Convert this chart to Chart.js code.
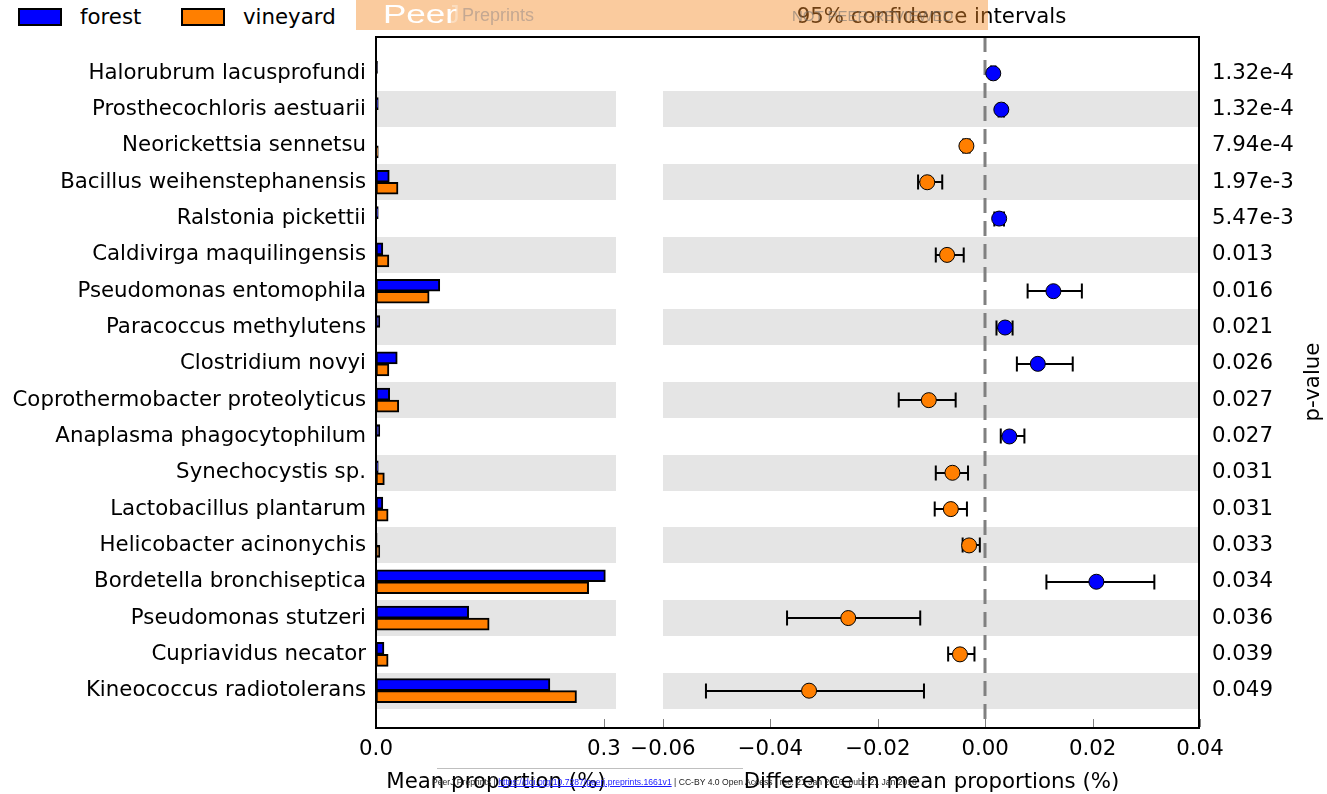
<!DOCTYPE html>
<html>
<head>
<meta charset="utf-8">
<script src="https://cdn.jsdelivr.net/npm/chart.js@4.4.0/dist/chart.umd.min.js"></script>
<style>
html,body{margin:0;padding:0;background:#fff;}
#wrap{position:relative;width:1327px;height:794px;overflow:hidden;font-family:'DejaVu Sans',sans-serif;}
canvas{position:absolute;top:0;}
#legend{position:absolute;left:0;top:0;height:34px;width:350px;}
.lg-box{position:absolute;top:8px;width:44px;height:18px;border:2px solid #000;box-sizing:border-box;}
.lg-txt{position:absolute;top:4px;font-size:21.3px;line-height:25px;color:#000;white-space:nowrap;}
#frame{position:absolute;left:375px;top:36px;width:825px;height:693px;border:2px solid #000;box-sizing:border-box;pointer-events:none;}
#wm{position:absolute;left:356px;top:0;width:632px;height:30px;background:rgba(245,140,40,0.45);pointer-events:none;overflow:hidden;}
#wm .peer{position:absolute;left:27px;top:2px;font-family:'Liberation Sans',sans-serif;font-size:25px;line-height:25px;color:#fff;transform:scaleX(1.4);transform-origin:0 0;}
#wm .j{position:absolute;left:91px;top:2px;font-family:'Liberation Sans',sans-serif;font-size:25px;line-height:25px;color:rgba(255,255,255,0.35);}
#wm .pre{position:absolute;left:106px;top:6px;font-family:'Liberation Sans',sans-serif;font-size:18px;line-height:18px;color:#c4a892;}
#wm .npr{position:absolute;left:436px;top:7px;font-family:'Liberation Sans',sans-serif;font-size:15px;color:rgba(110,110,110,0.55);white-space:nowrap;}
#footer{position:absolute;left:432px;top:777px;font-family:'Liberation Sans',sans-serif;font-size:8.6px;color:#222;white-space:nowrap;}
#footer a{color:#1a1aff;text-decoration:underline;}
#fline{position:absolute;left:437px;top:768px;width:306px;height:0;border-top:1px solid rgba(0,0,0,0.25);}
</style>
</head>
<body>
<div id="wrap">
  <div id="legend"></div>
  <canvas id="leftChart" width="640" height="794" style="left:0px"></canvas>
  <canvas id="rightChart" width="727" height="794" style="left:600px"></canvas>
  <div id="frame"></div>
  <div id="wm"><span class="peer">Peer</span><span class="j">J</span><span class="pre">Preprints</span><span class="npr">NOT PEER-REVIEWED</span></div>
  <div id="fline"></div>
  <div id="footer">PeerJ Preprints | <a>https://doi.org/10.7287/peerj.preprints.1661v1</a> | CC-BY 4.0 Open Access | rec: 21 Jan 2016, publ: 21 Jan 2016</div>
</div>
<script>
// ---------------- DATA ----------------
const categories = [
  'Halorubrum lacusprofundi',
  'Prosthecochloris aestuarii',
  'Neorickettsia sennetsu',
  'Bacillus weihenstephanensis',
  'Ralstonia pickettii',
  'Caldivirga maquilingensis',
  'Pseudomonas entomophila',
  'Paracoccus methylutens',
  'Clostridium novyi',
  'Coprothermobacter proteolyticus',
  'Anaplasma phagocytophilum',
  'Synechocystis sp.',
  'Lactobacillus plantarum',
  'Helicobacter acinonychis',
  'Bordetella bronchiseptica',
  'Pseudomonas stutzeri',
  'Cupriavidus necator',
  'Kineococcus radiotolerans'
];
const seriesNames = ['forest', 'vineyard'];
const forestMean   = [0.002, 0.003, 0.0004, 0.0175, 0.003, 0.009, 0.084, 0.005, 0.028, 0.018, 0.005, 0.003, 0.009, 0.0015, 0.302, 0.122, 0.0105, 0.229];
const vineyardMean = [0.0003, 0.0004, 0.003, 0.029, 0.0006, 0.017, 0.070, 0.0006, 0.017, 0.030, 0.0004, 0.011, 0.016, 0.005, 0.280, 0.149, 0.016, 0.264];
const meanDiff = [0.0015, 0.0030, -0.0035, -0.0108, 0.0026, -0.0071, 0.0127, 0.0037, 0.0098, -0.0105, 0.0045, -0.0061, -0.0064, -0.0030, 0.0207, -0.0255, -0.0047, -0.0328];
const ciLow    = [0.0011, 0.0025, -0.0041, -0.0125, 0.0017, -0.0092, 0.0079, 0.0021, 0.0059, -0.0161, 0.0029, -0.0092, -0.0094, -0.0042, 0.0114, -0.0369, -0.0069, -0.0520];
const ciHigh   = [0.0019, 0.0035, -0.0029, -0.0080, 0.0035, -0.0040, 0.0180, 0.0051, 0.0163, -0.0055, 0.0073, -0.0032, -0.0034, -0.0010, 0.0315, -0.0121, -0.0020, -0.0114];
const pValues  = ['1.32e-4', '1.32e-4', '7.94e-4', '1.97e-3', '5.47e-3', '0.013', '0.016', '0.021', '0.026', '0.027', '0.027', '0.031', '0.031', '0.033', '0.034', '0.036', '0.039', '0.049'];
const leftTickValues  = [0.0, 0.3];
const leftTickLabels  = ['0.0', '0.3'];
const rightTickValues = [-0.06, -0.04, -0.02, 0.0, 0.02, 0.04];
const rightTickLabels = ['\u22120.06', '\u22120.04', '\u22120.02', '0.00', '0.02', '0.04'];

// ---------------- STYLE ----------------
const COLORS = ['#0000ff', '#ff7f00'];
const FONT = 'DejaVu Sans';
const FS = 21.3;
Chart.defaults.font.family = FONT;
Chart.defaults.font.size = FS;
Chart.defaults.color = '#000';

// legend (HTML)
(function(){
  const lg = document.getElementById('legend');
  const pos = [[18, 80], [181, 243]];
  seriesNames.forEach((n, k) => {
    const b = document.createElement('div');
    b.className = 'lg-box'; b.style.left = pos[k][0] + 'px'; b.style.background = COLORS[k];
    const t = document.createElement('div');
    t.className = 'lg-txt'; t.style.left = pos[k][1] + 'px'; t.textContent = n;
    lg.appendChild(b); lg.appendChild(t);
  });
})();

const bandPlugin = {
  id: 'bands',
  beforeDatasetsDraw(chart) {
    const {ctx, chartArea: a, scales: {y}} = chart;
    ctx.save();
    ctx.fillStyle = '#e5e5e5';
    for (let i = 1; i < categories.length; i += 2) {
      const y1 = y.getPixelForValue(i - 0.5), y2 = y.getPixelForValue(i + 0.5);
      ctx.fillRect(a.left, Math.round(Math.min(y1, y2)), a.right - a.left, Math.round(Math.abs(y2 - y1)));
    }
    ctx.restore();
  },
  afterDraw(chart) {
    const {ctx, chartArea: a, scales: {x}} = chart;
    ctx.save();
    ctx.strokeStyle = '#808080';
    ctx.lineWidth = 1;
    x.ticks.forEach(t => {
      const px = Math.round(x.getPixelForValue(t.value)) + 0.5;
      ctx.beginPath();
      ctx.moveTo(px, a.bottom);
      ctx.lineTo(px, a.bottom - 8);
      ctx.stroke();
    });
    ctx.restore();
  }
};

const errPlugin = {
  id: 'errbars',
  beforeDatasetsDraw(chart) {
    const {ctx, chartArea: a, scales: {x, y}} = chart;
    // zero line
    ctx.save();
    const x0 = Math.round(x.getPixelForValue(0));
    ctx.strokeStyle = '#808080';
    ctx.lineWidth = 3;
    ctx.setLineDash([15, 8]);
    ctx.beginPath();
    ctx.moveTo(x0, a.top);
    ctx.lineTo(x0, a.bottom);
    ctx.stroke();
    ctx.restore();
    // error bars
    ctx.save();
    ctx.strokeStyle = '#000';
    ctx.lineWidth = 2;
    for (let i = 0; i < categories.length; i++) {
      const yy = Math.round(y.getPixelForValue(i));
      const xa = x.getPixelForValue(ciLow[i]), xb = x.getPixelForValue(ciHigh[i]);
      ctx.beginPath();
      ctx.moveTo(xa, yy); ctx.lineTo(xb, yy);
      ctx.moveTo(xa, yy - 7.5); ctx.lineTo(xa, yy + 7.5);
      ctx.moveTo(xb, yy - 7.5); ctx.lineTo(xb, yy + 7.5);
      ctx.stroke();
    }
    ctx.restore();
  },
  afterDraw(chart) {
    const {ctx, chartArea: a} = chart;
    ctx.save();
    ctx.translate(713, (a.top + a.bottom) / 2);
    ctx.rotate(-Math.PI / 2);
    ctx.font = FS + 'px ' + FONT;
    ctx.fillStyle = '#000';
    ctx.textAlign = 'center';
    ctx.textBaseline = 'middle';
    ctx.fillText('p-value', 0, 0);
    ctx.restore();
  }
};

const rowAxis = (extra) => Object.assign({
  type: 'linear',
  min: -1,
  max: categories.length,
  reverse: true,
  offset: false,
  grid: { display: false, drawTicks: false, offset: false },
  border: { display: false },
  afterBuildTicks: s => { s.ticks = categories.map((_, i) => ({ value: i })); },
}, extra);

const xTitle = (text) => ({ display: true, text, font: { size: FS, lineHeight: 1.0 }, padding: { top: 0, bottom: 0.5 } });

// ---------------- LEFT CHART ----------------
new Chart(document.getElementById('leftChart'), {
  type: 'bar',
  data: {
    datasets: [
      { label: seriesNames[0], data: forestMean.map((v, i) => ({ x: v, y: i })), backgroundColor: COLORS[0] },
      { label: seriesNames[1], data: vineyardMean.map((v, i) => ({ x: v, y: i })), backgroundColor: COLORS[1] }
    ].map(d => Object.assign(d, { borderColor: '#000', borderWidth: 2, borderSkipped: false, barThickness: 12 }))
  },
  options: {
    indexAxis: 'y',
    responsive: false,
    animation: false,
    devicePixelRatio: 1,
    layout: { padding: { top: 37, right: 24, left: 0, bottom: 0 } },
    plugins: { legend: { display: false }, tooltip: { enabled: false } },
    scales: {
      x: {
        type: 'linear', min: 0, max: 0.316, offset: false,
        grid: { display: false, drawTicks: false },
        border: { display: false },
        afterBuildTicks: s => { s.ticks = leftTickValues.map(v => ({ value: v })); },
        ticks: { padding: 10, autoSkip: false, maxRotation: 0, callback: (v, idx) => leftTickLabels[idx] },
        title: xTitle('Mean proportion (%)'),
        afterFit: s => { s.height = 67; }
      },
      y: rowAxis({
        position: 'left',
        ticks: { padding: 10, autoSkip: false, callback: v => categories[v] },
        afterFit: s => { s.width = 376; }
      })
    }
  },
  plugins: [bandPlugin]
});

// ---------------- RIGHT CHART ----------------
new Chart(document.getElementById('rightChart'), {
  type: 'scatter',
  data: {
    datasets: [{
      label: 'difference',
      data: meanDiff.map((v, i) => ({ x: v, y: i })),
      pointRadius: 7.5,
      pointHoverRadius: 7.5,
      pointBackgroundColor: meanDiff.map(v => v > 0 ? COLORS[0] : COLORS[1]),
      pointBorderColor: '#000',
      pointBorderWidth: 1,
      showLine: false
    }]
  },
  options: {
    responsive: false,
    animation: false,
    devicePixelRatio: 1,
    layout: { padding: { top: 0, right: 0, left: 63, bottom: 0 } },
    plugins: {
      legend: { display: false },
      tooltip: { enabled: false },
      title: {
        display: true, fullSize: false, text: '95% confidence intervals',
        font: { size: FS, weight: 'normal', lineHeight: 1.2 },
        padding: { top: 5, bottom: 6.44 }, color: '#000'
      }
    },
    scales: {
      x: {
        type: 'linear', min: -0.06, max: 0.04, offset: false,
        grid: { display: false, drawTicks: false },
        border: { display: false },
        afterBuildTicks: s => { s.ticks = rightTickValues.map(v => ({ value: v })); },
        ticks: { padding: 10, autoSkip: false, maxRotation: 0, callback: (v, idx) => rightTickLabels[idx] },
        title: xTitle('Difference in mean proportions (%)'),
        afterFit: s => { s.height = 67; }
      },
      y: rowAxis({
        position: 'right',
        ticks: { padding: 12, autoSkip: false, callback: v => pValues[v] },
        afterFit: s => { s.width = 127; }
      })
    }
  },
  plugins: [bandPlugin, errPlugin]
});
</script>
</body>
</html>
